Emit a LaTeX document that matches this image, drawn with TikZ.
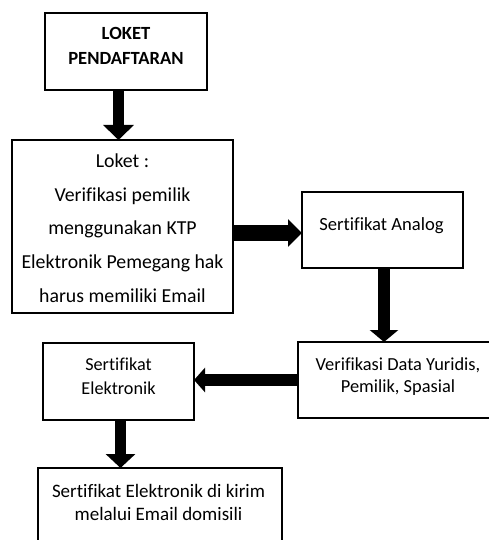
\documentclass[tikz,border=0pt]{standalone}
\usepackage{fontspec}
\setmainfont{Carlito}[Ligatures=NoCommon]
\usetikzlibrary{arrows.meta,calc}
\begin{document}
\begin{tikzpicture}[x=1pt,y=-1pt,
  box/.style={draw,line width=1.4pt,rectangle,inner sep=0pt,outer sep=0pt},
  txt/.style 2 args={align=center,inner sep=0pt,font=\fontsize{#1}{#2}\selectfont}
]
\useasboundingbox (0,0) rectangle (489,540);
\clip (0,0) rectangle (489,540);
% boxes
\node[box,minimum width=162,minimum height=77] (b1) at (126,51.5) {};
\node[box,minimum width=221,minimum height=173] (b2) at (122.5,226.5) {};
\node[box,minimum width=161,minimum height=76] (b3) at (382.5,230) {};
\node[box,minimum width=210,minimum height=76] (b4) at (403,380) {};
\node[box,minimum width=151,minimum height=77] (b5) at (118.5,381.5) {};
\node[box,minimum width=244,minimum height=92] (b6) at (160,514) {};
% texts
\node[align=center,inner sep=0pt,font=\fontsize{18.6}{25}\selectfont\bfseries] (t1) at (126,46) {LOKET\\PENDAFTARAN};
\node[txt={19.8}{33.75}] (t2) at (122.5,228) {Loket :\\Verifikasi pemilik\\menggunakan KTP\\Elektronik Pemegang hak\\harus memiliki Email};
\node[txt={18.6}{24}] (t3) at (381.5,226) {Sertifikat Analog};
\node[txt={18.4}{22}] (t4) at (398,377) {Verifikasi Data Yuridis,\\Pemilik, Spasial};
\node[txt={18.2}{24}] (t5) at (118.5,376) {Sertifikat\\Elektronik};
\node[txt={19}{23}] (t6) at (158.5,502) {Sertifikat Elektronik di kirim\\melalui Email domisili};
% arrows
\draw[line width=11pt,-{Triangle[width=30pt,length=15pt]}] (b1.south -| 118.5,0) -- (b2.north -| 118.5,0);
\draw[line width=16pt,-{Triangle[width=27pt,length=14pt]}] (b2.east |- 0,233) -- (b3.west |- 0,233);
\draw[line width=12pt,-{Triangle[width=28pt,length=12pt]}] (b3.south -| 384,0) -- (b4.north -| 384,0);
\draw[line width=12pt,-{Triangle[width=24pt,length=11pt]}] (b4.west |- 0,380) -- (b5.east |- 0,380);
\draw[line width=11pt,-{Triangle[width=29pt,length=14pt]}] (b5.south -| 120.5,0) -- (b6.north -| 120.5,0);
\end{tikzpicture}
\end{document}
